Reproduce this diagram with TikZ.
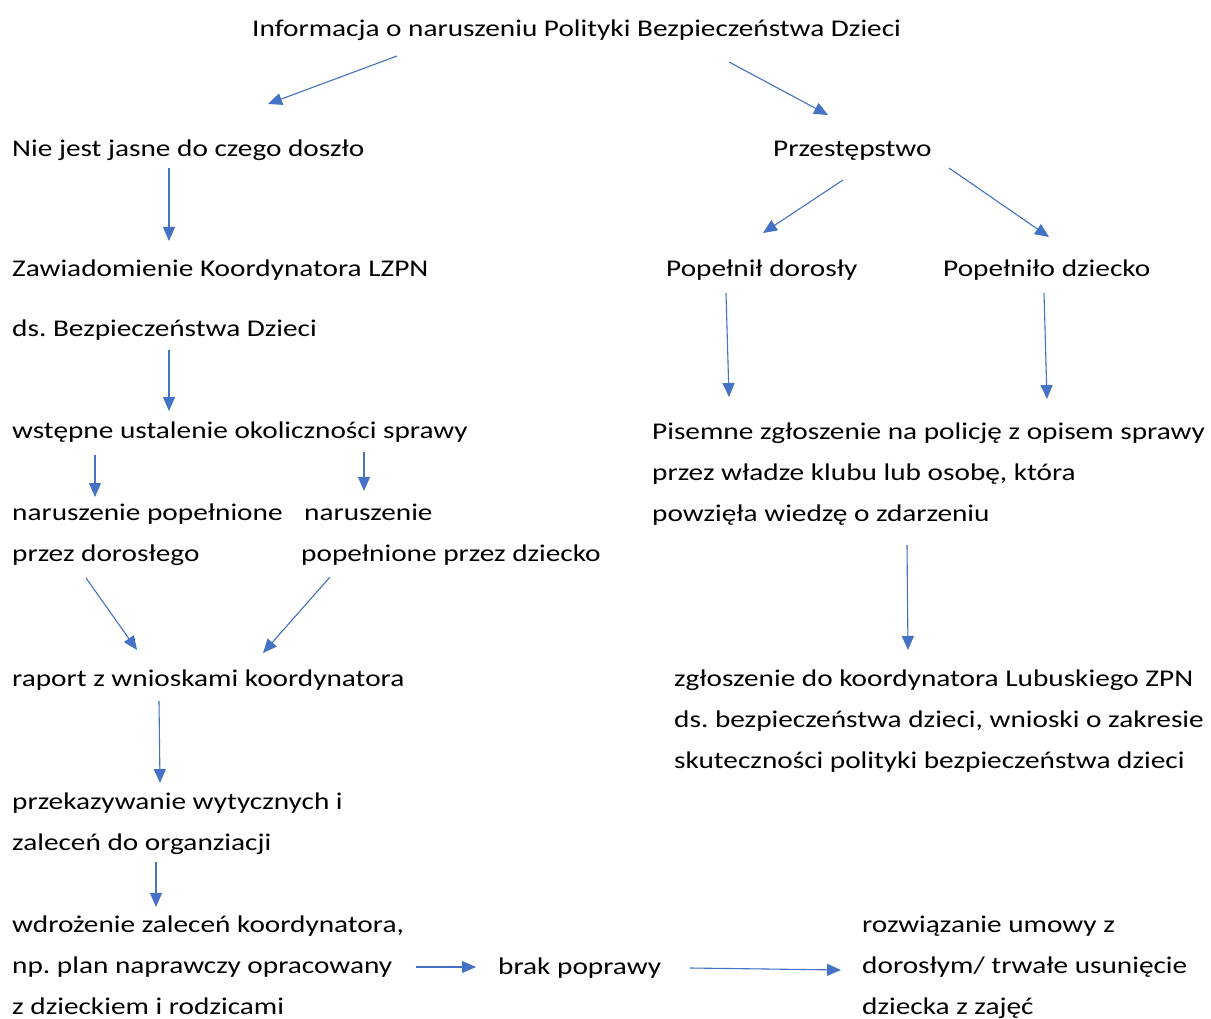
\documentclass[tikz,border=0pt]{standalone}
\usepackage{fontspec}
\setmainfont[FakeStretch=1.22]{Carlito}
\usetikzlibrary{arrows.meta}
\definecolor{wordblue}{RGB}{68,114,196}
\frenchspacing
\tikzset{
  txt/.style={anchor=base west,inner sep=0pt,align=left,font=\fontsize{24}{41}\selectfont},
  arr/.style={draw=wordblue,line width=1.1pt,-{Triangle[length=14pt,width=12pt]},fill=wordblue}
}
\begin{document}
\begin{tikzpicture}[x=1pt,y=-1pt]
  \useasboundingbox (0,0) rectangle (1211,1019);
  % texts (anchored at the baseline of their last line)
  \node[txt] (info) at (252,37) {Informacja o naruszeniu Polityki Bezpieczeństwa Dzieci};
  \node[txt] (niejasne) at (12,157) {Nie jest jasne do czego doszło};
  \node[txt] (przest) at (773,157) {Przestępstwo};
  \node[txt] (zawiad) at (12,337) {Zawiadomienie Koordynatora LZPN\\[19pt]ds. Bezpieczeństwa Dzieci};
  \node[txt] (dorosly) at (666,277) {Popełnił dorosły};
  \node[txt] (dziecko) at (943,277) {Popełniło dziecko};
  \node[txt] (wstepne) at (12,438) {wstępne ustalenie okoliczności sprawy};
  \node[txt] (pisemne) at (652,521) {Pisemne zgłoszenie na policję z opisem sprawy\\przez władze klubu lub osobę, która\\powzięła wiedzę o zdarzeniu};
  \node[txt] (nardor) at (12,561) {naruszenie popełnione\\przez dorosłego};
  \node[txt] (nardz) at (301,561) {\hspace{3pt}naruszenie\\popełnione przez dziecko};
  \node[txt] (raport) at (12,686) {raport z wnioskami koordynatora};
  \node[txt] (zglosz) at (674,768) {zgłoszenie do koordynatora Lubuskiego ZPN\\ds. bezpieczeństwa dzieci, wnioski o zakresie\\skuteczności polityki bezpieczeństwa dzieci};
  \node[txt] (przekaz) at (12,850) {przekazywanie wytycznych i\\zaleceń do organziacji};
  \node[txt] (wdroz) at (12,1014) {wdrożenie zaleceń koordynatora,\\np. plan naprawczy opracowany\\z dzieckiem i rodzicami};
  \node[txt] (brak) at (498,974) {brak poprawy};
  \node[txt] (rozw) at (862,1014) {rozwiązanie umowy z\\dorosłym/ trwałe usunięcie\\dziecka z zajęć};
  % arrow ends
  \coordinate (a1) at (397,56);   \coordinate (b1) at (268,104);
  \coordinate (a2) at (729,62);   \coordinate (b2) at (828,115);
  \coordinate (a3) at (169,168);  \coordinate (b3) at (169,241);
  \coordinate (a4) at (843,180);  \coordinate (b4) at (763,233);
  \coordinate (a5) at (949,168);  \coordinate (b5) at (1049,237);
  \coordinate (a6) at (169,350);  \coordinate (b6) at (169,411);
  \coordinate (a7) at (726,293);  \coordinate (b7) at (729,397);
  \coordinate (a8) at (1044,293); \coordinate (b8) at (1047,399);
  \coordinate (a9) at (95,455);   \coordinate (b9) at (95,497);
  \coordinate (a10) at (364,452); \coordinate (b10) at (364,491);
  \coordinate (a11) at (86,578);  \coordinate (b11) at (137,650);
  \coordinate (a12) at (330,577); \coordinate (b12) at (263,653);
  \coordinate (a13) at (159,701); \coordinate (b13) at (160,783);
  \coordinate (a14) at (156,862); \coordinate (b14) at (156,907);
  \coordinate (a15) at (907,545); \coordinate (b15) at (908,650);
  \coordinate (a16) at (416,967); \coordinate (b16) at (476,967);
  \coordinate (a17) at (690,968); \coordinate (b17) at (841,970);
  \foreach \i in {1,...,17}
    \draw[arr] (a\i) -- (b\i);
\end{tikzpicture}
\end{document}
